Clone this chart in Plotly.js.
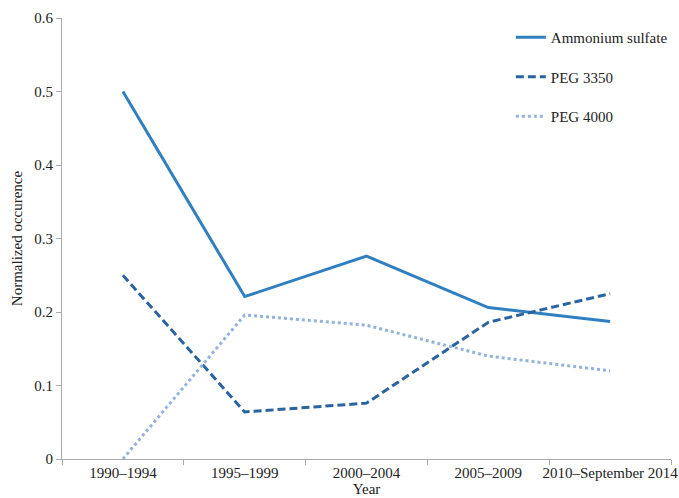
<!DOCTYPE html>
<html><head><meta charset="utf-8">
<script src="https://cdn.plot.ly/plotly-3.0.1.min.js"></script>
<style>html,body{margin:0;padding:0;background:#fff}#chart{width:679px;height:498px}</style>
</head><body><div id="chart"></div>
<script>
const categories = ["1990–1994", "1995–1999", "2000–2004", "2005–2009", "2010–September 2014"];
const ammoniumSulfate = [0.500, 0.221, 0.276, 0.206, 0.187];
const peg3350 = [0.250, 0.064, 0.076, 0.186, 0.225];
const peg4000 = [0.000, 0.196, 0.182, 0.140, 0.120];

const font = {family: "'Liberation Serif', 'Times New Roman', serif", size: 15, color: "#222"};
const traces = [
  {x: categories, y: ammoniumSulfate, name: "Ammonium sulfate", mode: "lines", legendgroup: "a",
   line: {color: "#2f7fc1", width: 3, dash: "solid"}},
  {x: categories, y: peg3350, name: "PEG 3350", mode: "lines", legendgroup: "b",
   line: {color: "#2a64a0", width: 3, dash: "8px,4px"}},
  {x: categories, y: peg4000, name: "PEG 4000", mode: "lines", legendgroup: "c",
   line: {color: "#93b3db", width: 3, dash: "3px,3px"}}
];
const layout = {
  width: 679, height: 498,
  margin: {l: 62, r: 6, t: 18, b: 39},
  paper_bgcolor: "#fff", plot_bgcolor: "#fff",
  font: font,
  showlegend: true,
  legend: {x: 0.737, y: 0.993, xanchor: "left", yanchor: "top", font: font,
           tracegroupgap: 17, bgcolor: "rgba(0,0,0,0)"},
  xaxis: {type: "category", range: [-0.5, 4.5], showgrid: false, showline: true,
          linecolor: "#aaa", linewidth: 1, ticks: "outside", tickson: "boundaries",
          ticklen: 5, tickcolor: "#aaa", tickfont: font, tickangle: 0, automargin: false,
          title: {text: "Year", font: font, standoff: 2}},
  yaxis: {range: [0, 0.6], dtick: 0.1, showgrid: false, showline: true, zeroline: false,
          linecolor: "#aaa", linewidth: 1, ticks: "outside", ticklen: 5, tickcolor: "#aaa",
          tickfont: font, automargin: false,
          title: {text: "Normalized occurence", font: font, standoff: 8}}
};
Plotly.newPlot("chart", traces, layout, {displayModeBar: false, staticPlot: true});
</script></body></html>
